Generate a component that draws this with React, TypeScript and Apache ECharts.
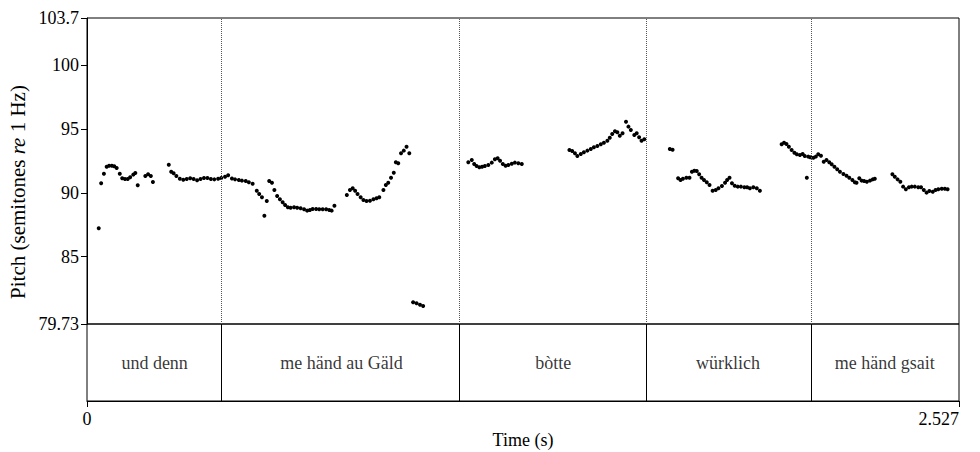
import React, { useEffect, useRef } from "react";
import * as echarts from "echarts";

const tierBounds = [0, 0.392, 1.083, 1.619, 2.096, 2.527];
const tierLabels = ["und denn", "me händ au Gäld", "bòtte", "würklich", "me händ gsait"];
const yTicks = [79.73, 85, 90, 95, 100, 103.7];
const xTicks = [0, 2.527];

const pitchUndDenn = [
  [0.034, 87.23], [0.041, 90.75], [0.049, 91.5], [0.057, 92.05], [0.064, 92.13], [0.072, 92.13],
  [0.079, 92.08], [0.086, 91.95], [0.095, 91.5], [0.102, 91.14], [0.11, 91.09], [0.118, 91.09],
  [0.125, 91.22], [0.134, 91.43], [0.14, 91.56], [0.147, 90.6], [0.169, 91.32], [0.177, 91.46],
  [0.185, 91.32], [0.191, 90.85], [0.237, 92.21], [0.244, 91.66], [0.251, 91.54], [0.259, 91.32],
  [0.269, 91.11], [0.279, 91.03], [0.289, 91.09], [0.299, 91.14], [0.309, 91.09], [0.319, 90.99],
  [0.329, 91.09], [0.339, 91.17], [0.349, 91.17], [0.359, 91.09], [0.369, 91.06], [0.38, 91.11],
  [0.389, 91.17],
];
const pitchMeHaendAuGaeld = [
  [0.4, 91.27], [0.409, 91.38], [0.42, 91.12], [0.429, 91.06], [0.44, 91.01], [0.449, 90.96],
  [0.46, 90.93], [0.469, 90.83], [0.48, 90.72], [0.492, 90.17], [0.499, 89.91], [0.507, 89.66],
  [0.514, 88.21], [0.521, 89.37], [0.528, 90.93], [0.536, 90.8], [0.543, 90.23], [0.551, 89.76],
  [0.559, 89.5], [0.567, 89.26], [0.574, 89.05], [0.582, 88.87], [0.59, 88.84], [0.6, 88.87],
  [0.609, 88.84], [0.619, 88.79], [0.629, 88.72], [0.638, 88.61], [0.646, 88.66], [0.654, 88.74],
  [0.664, 88.74], [0.673, 88.72], [0.683, 88.72], [0.693, 88.72], [0.702, 88.66], [0.709, 88.61],
  [0.717, 89.0], [0.753, 89.84], [0.762, 90.23], [0.77, 90.36], [0.777, 90.17], [0.784, 89.91],
  [0.793, 89.66], [0.801, 89.44], [0.81, 89.37], [0.82, 89.39], [0.83, 89.5], [0.839, 89.58],
  [0.847, 89.66], [0.859, 90.23], [0.866, 90.62], [0.873, 90.8], [0.881, 91.19], [0.889, 91.58],
  [0.895, 92.4], [0.902, 92.32], [0.91, 93.1], [0.918, 93.31], [0.926, 93.62], [0.934, 93.1],
  [0.945, 81.43], [0.955, 81.35], [0.965, 81.24], [0.974, 81.14],
];
const pitchBotte = [
  [1.105, 92.4], [1.115, 92.58], [1.122, 92.26], [1.129, 92.11], [1.137, 92.01], [1.145, 92.05],
  [1.153, 92.11], [1.163, 92.19], [1.173, 92.37], [1.182, 92.63], [1.19, 92.71], [1.197, 92.52],
  [1.205, 92.26], [1.213, 92.13], [1.221, 92.19], [1.231, 92.29], [1.24, 92.37], [1.25, 92.32],
  [1.26, 92.26], [1.398, 93.36], [1.406, 93.28], [1.414, 93.1], [1.421, 92.89], [1.431, 93.05],
  [1.44, 93.18], [1.45, 93.31], [1.46, 93.44], [1.469, 93.57], [1.479, 93.67], [1.489, 93.81],
  [1.498, 93.93], [1.508, 94.09], [1.515, 94.32], [1.522, 94.61], [1.53, 94.83], [1.537, 94.75],
  [1.544, 94.48], [1.552, 94.67], [1.562, 95.58], [1.569, 95.19], [1.576, 94.93], [1.586, 94.54],
  [1.593, 94.67], [1.6, 94.36], [1.607, 94.09], [1.615, 94.2],
];
const pitchWuerklich = [
  [1.689, 93.44], [1.697, 93.38], [1.713, 91.14], [1.72, 91.01], [1.727, 91.11], [1.737, 91.19],
  [1.746, 91.19], [1.753, 91.66], [1.76, 91.74], [1.767, 91.72], [1.774, 91.46], [1.781, 91.19],
  [1.788, 91.01], [1.796, 90.83], [1.804, 90.62], [1.813, 90.17], [1.822, 90.23], [1.83, 90.36],
  [1.84, 90.54], [1.849, 90.8], [1.855, 91.01], [1.862, 91.19], [1.869, 90.75], [1.877, 90.56],
  [1.886, 90.49], [1.895, 90.49], [1.905, 90.44], [1.913, 90.44], [1.921, 90.36], [1.931, 90.44],
  [1.941, 90.36], [1.95, 90.17], [2.013, 93.81], [2.02, 93.93], [2.027, 93.83], [2.034, 93.62],
  [2.042, 93.36], [2.05, 93.15], [2.057, 93.02], [2.066, 92.97], [2.074, 93.05], [2.08, 92.89],
  [2.086, 91.19], [2.09, 92.84],
];
const pitchMeHaendGsait = [
  [2.096, 92.79], [2.105, 92.76], [2.112, 92.84], [2.119, 93.02], [2.127, 92.91], [2.135, 92.44],
  [2.143, 92.58], [2.151, 92.4], [2.158, 92.24], [2.166, 92.05], [2.174, 91.85], [2.182, 91.66],
  [2.192, 91.48], [2.201, 91.35], [2.209, 91.19], [2.218, 91.01], [2.225, 90.83], [2.23, 90.8],
  [2.238, 91.14], [2.245, 90.96], [2.252, 90.93], [2.26, 90.88], [2.269, 90.96], [2.277, 91.06],
  [2.283, 91.11], [2.334, 91.46], [2.341, 91.27], [2.349, 91.06], [2.357, 90.88], [2.365, 90.49],
  [2.373, 90.28], [2.382, 90.44], [2.39, 90.49], [2.399, 90.49], [2.409, 90.44], [2.417, 90.44],
  [2.425, 90.23], [2.433, 90.02], [2.441, 90.15], [2.451, 90.09], [2.459, 90.23], [2.467, 90.28],
  [2.477, 90.33], [2.486, 90.33], [2.494, 90.28],
];

const FONT = '"Liberation Serif", "Times New Roman", serif';
const FS = 18;

export default function App() {
  const ref = useRef<HTMLDivElement>(null);
  useEffect(() => {
    if (!ref.current) return;
    const chart = echarts.init(ref.current, undefined, { renderer: "svg" });
    const pitch = [
      ...pitchUndDenn, ...pitchMeHaendAuGaeld, ...pitchBotte, ...pitchWuerklich, ...pitchMeHaendGsait,
    ];
    const inner = tierBounds.slice(1, -1);
    const tierData = tierLabels.map((name, i) => ({
      name,
      value: [(tierBounds[i] + tierBounds[i + 1]) / 2, 0.5],
    }));
    chart.setOption({
      animation: false,
      backgroundColor: "#fff",
      textStyle: { fontFamily: FONT },
      grid: [
        { left: 87, top: 18, width: 872, height: 306, show: true, borderColor: "#000", borderWidth: 1, backgroundColor: "transparent" },
        { left: 87, top: 324, width: 872, height: 77, show: true, borderColor: "#000", borderWidth: 1, backgroundColor: "transparent" },
      ],
      xAxis: [
        { gridIndex: 0, type: "value", min: 0, max: 2.527, show: false },
        {
          gridIndex: 1, type: "value", min: 0, max: 2.527,
          axisLine: { show: true, lineStyle: { color: "#000", width: 1 } },
          axisTick: { show: true, customValues: xTicks, length: 6, lineStyle: { color: "#000" } },
          axisLabel: {
            customValues: xTicks, formatter: (v: number) => String(v), color: "#000",
            fontFamily: FONT, fontSize: FS, margin: 9, alignMaxLabel: "right",
          },
          splitLine: { show: false },
          name: "Time (s)", nameLocation: "middle", nameGap: 30,
          nameTextStyle: { color: "#000", fontFamily: FONT, fontSize: FS },
        },
      ],
      yAxis: [
        {
          gridIndex: 0, type: "value", min: 79.73, max: 103.7,
          axisLine: { show: true, lineStyle: { color: "#000", width: 1 } },
          axisTick: { show: true, customValues: yTicks, length: 6, lineStyle: { color: "#000" } },
          axisLabel: {
            customValues: yTicks, formatter: (v: number) => String(v), color: "#000",
            fontFamily: FONT, fontSize: FS, margin: 8,
          },
          splitLine: { show: false },
        },
        { gridIndex: 1, type: "value", min: 0, max: 1, show: false },
      ],
      graphic: [
        {
          type: "text", x: 18, y: 192, rotation: Math.PI / 2,
          style: {
            text: "Pitch (semitones {i|re} 1 Hz)",
            fill: "#000", fontFamily: FONT, fontSize: 21, align: "center", verticalAlign: "middle",
            rich: { i: { fontStyle: "italic", fontFamily: FONT, fontSize: 21, fill: "#000" } },
          },
        },
      ],
      series: [
        {
          type: "scatter", xAxisIndex: 0, yAxisIndex: 0, data: pitch, symbolSize: 4,
          itemStyle: { color: "#000", opacity: 1 }, silent: true,
          markLine: {
            silent: true, symbol: "none", label: { show: false },
            lineStyle: { type: "dotted", color: "#555", width: 1 },
            data: inner.map((b) => ({ xAxis: b })),
          },
        },
        {
          type: "scatter", xAxisIndex: 1, yAxisIndex: 1, data: tierData, symbolSize: 1,
          itemStyle: { color: "rgba(0,0,0,0)" }, silent: true,
          label: {
            show: true, position: "inside", formatter: "{b}", color: "#000",
            fontFamily: FONT, fontSize: FS,
          },
          markLine: {
            silent: true, symbol: "none", label: { show: false },
            lineStyle: { type: "solid", color: "#000", width: 1 },
            data: inner.map((b) => ({ xAxis: b })),
          },
        },
      ],
    });
    return () => chart.dispose();
  }, []);
  return (
    <div
      ref={ref}
      style={{ position: "fixed", left: 0, top: 0, width: 980, height: 452, background: "#fff" }}
    />
  );
}
